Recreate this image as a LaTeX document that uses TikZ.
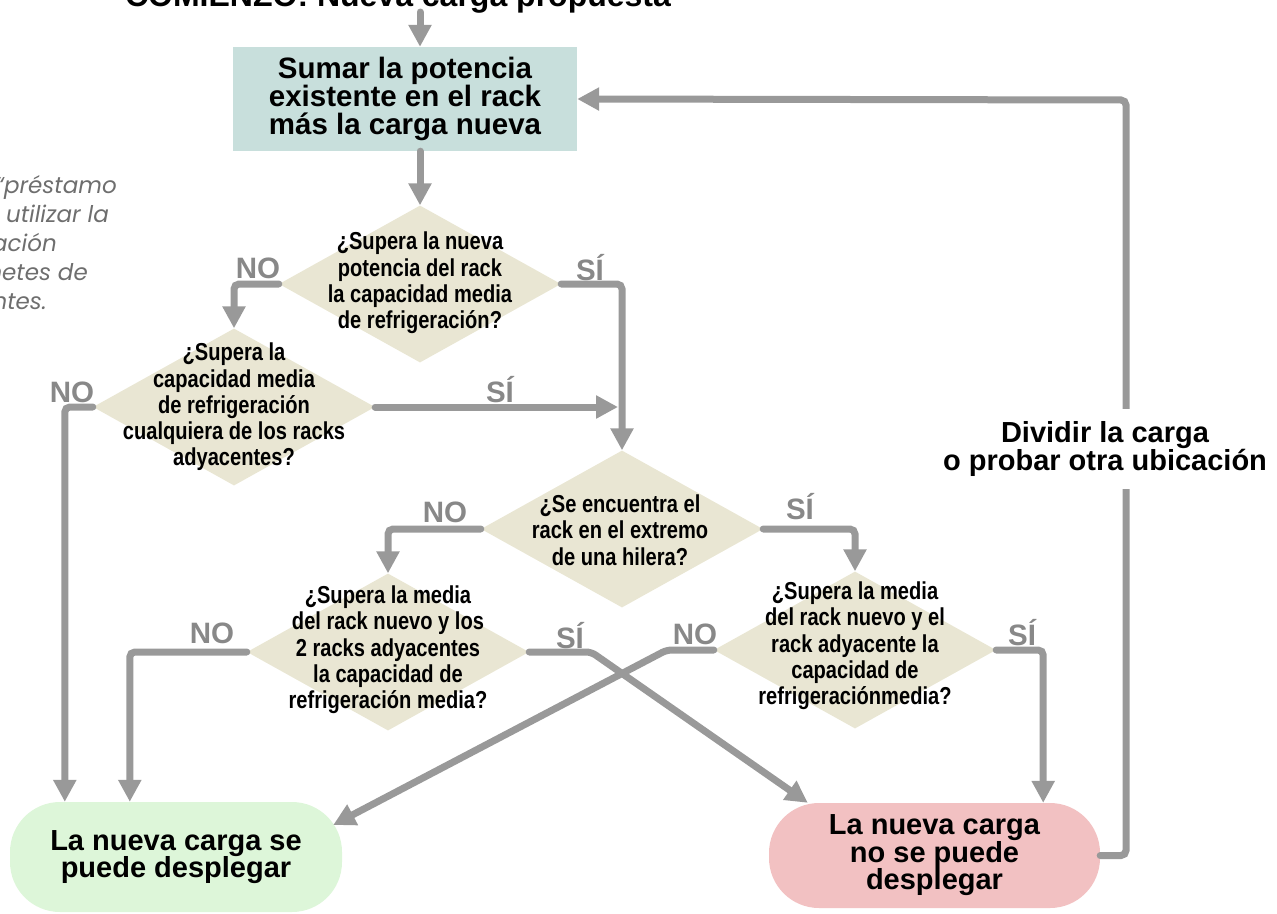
\documentclass[tikz,border=0pt]{standalone}
\usepackage{fontspec}
\setmainfont{Liberation Sans}
\newfontfamily\narrowfont[FakeStretch=0.82]{Liberation Sans}
\newfontfamily\notefont{Poppins}
\usetikzlibrary{shapes.geometric,arrows.meta,calc}
\definecolor{boxfill}{HTML}{C8DFDC}
\definecolor{diafill}{HTML}{E9E6D3}
\definecolor{okfill}{HTML}{DDF6D9}
\definecolor{badfill}{HTML}{F2C1C2}
\definecolor{linegray}{HTML}{999999}
\definecolor{labgray}{HTML}{888888}
\definecolor{notegray}{HTML}{6E6E6E}
\tikzset{
  dia/.style={diamond, fill=diafill, minimum width=282pt, minimum height=157pt, inner sep=0pt},
  dtext/.style={align=center, font=\narrowfont\bfseries\fontsize{24.5}{26.3}\selectfont, inner sep=0pt},
  btext/.style={align=center, font=\bfseries\fontsize{29.5}{28}\selectfont, inner sep=0pt},
  conn/.style={draw=linegray, line width=7pt, line cap=round, rounded corners=5pt, -{Triangle[length=22pt,width=22pt]}},
  lab/.style={text=labgray, font=\bfseries\fontsize{29.5}{30}\selectfont, inner sep=0pt},
  term/.style={rounded corners=50pt, inner sep=0pt, align=center, font=\bfseries\fontsize{29}{27.5}\selectfont},
  note/.style={anchor=base east, text=notegray, inner sep=0pt, font=\notefont\itshape\fontsize{23}{23}\selectfont},
}
\begin{document}
\begin{tikzpicture}[x=1pt,y=-1pt]
\path[use as bounding box] (0,0) rectangle (1277,913);
\clip (0,0) rectangle (1277,913);

% start text (cut at top)
\node[anchor=base, inner sep=0pt, font=\bfseries\fontsize{32}{32}\selectfont] (startt) at (398,6) {COMIENZO: Nueva carga propuesta};

% left note (cut at left)
\node[note] (n1) at (117,193) {“préstamo};
\node[note] (n2) at (109,222) {e utilizar la};
\node[note] (n3) at (57,251) {ación};
\node[note] (n4) at (88,280) {netes de};
\node[note] (n5) at (47,309) {ntes.};

% main box
\node[fill=boxfill, minimum width=344pt, minimum height=104pt, btext] (box1) at (405,99)
  {Sumar la potencia\\existente en el rack\\más la carga nueva};

% diamonds
\node[dia] (d1) at (420,284) {};
\node[dtext] (t1) at (420,283) {¿Supera la nueva\\potencia del  rack\\la capacidad media\\de refrigeración?};
\node[dia] (d2) at (234,407) {};
\node[dtext] (t2) at (234,407) {¿Supera la\\capacidad media\\de refrigeración\\cualquiera de los racks\\adyacentes?};
\node[dia] (d3) at (622,529) {};
\node[dtext] (t3) at (620,530) {¿Se encuentra el\\rack en el extremo\\de una hilera?};
\node[dia] (d4) at (388,652) {};
\node[dtext] (t4) at (388,650) {¿Supera la media\\del rack nuevo y los\\2 racks adyacentes\\la capacidad de\\refrigeración media?};
\node[dia] (d5) at (855,650) {};
\node[dtext] (t5) at (855,646) {¿Supera la media\\del rack nuevo y el\\rack adyacente la\\capacidad de\\refrigeraciónmedia?};

% terminals
\node[term, fill=okfill, minimum width=332pt, minimum height=110pt] (good) at (176,857)
  {La nueva carga se\\puede desplegar};
\node[term, fill=badfill, minimum width=331pt, minimum height=105pt] (bad) at (934.5,855.5)
  {La nueva carga\\no se puede\\desplegar};

% connectors
\coordinate (s0) at (420,12);
\draw[conn] (s0) -- (s0 |- box1.north);
\draw[conn] (d1.north |- box1.south) -- (d1.north);
\draw[conn] (d1.west) -| (d2.north);
\draw[conn] (d1.east) -| (d3.north);
\draw[conn] (d2.west) -| ([xshift=55pt]good.north west);
\draw[conn] (d2.east) -- ($(d2.east -| d3.north)+(-4,0)$);
\draw[conn] (d3.west) -| (d4.north);
\draw[conn] (d3.east) -| (d5.north);
\draw[conn] (d4.west) -| ([xshift=120pt]good.north west);
\draw[conn] (d4.east) -- ++(62,0) -- ([xshift=39pt]bad.north west);
\draw[conn] (d5.west) -- ++(-47,0) -- ($(good.east)+(-9,-32)$);
\draw[conn] (d5.east) -| ([xshift=-57pt]bad.north east);
\coordinate (lp) at (1126,100);
\draw[conn] (bad.east) -| (lp) -- (box1.east);

% loop label
\node[fill=white, align=center, inner xsep=4pt, inner ysep=12pt, font=\bfseries\fontsize{29}{28.5}\selectfont] (split) at (1105,449)
  {Dividir la carga\\o probar otra ubicación};

% yes / no labels
\node[lab] (l1n) at (258,268) {NO};
\node[lab] (l1s) at (590,268) {SÍ};
\node[lab] (l2n) at (72,392) {NO};
\node[lab] (l2s) at (500,390) {SÍ};
\node[lab] (l3n) at (445,512) {NO};
\node[lab] (l3s) at (800,507) {SÍ};
\node[lab] (l4n) at (212,633) {NO};
\node[lab] (l4s) at (570,636) {SÍ};
\node[lab] (l5n) at (695,634) {NO};
\node[lab] (l5s) at (1022,633) {SÍ};
\end{tikzpicture}
\end{document}
